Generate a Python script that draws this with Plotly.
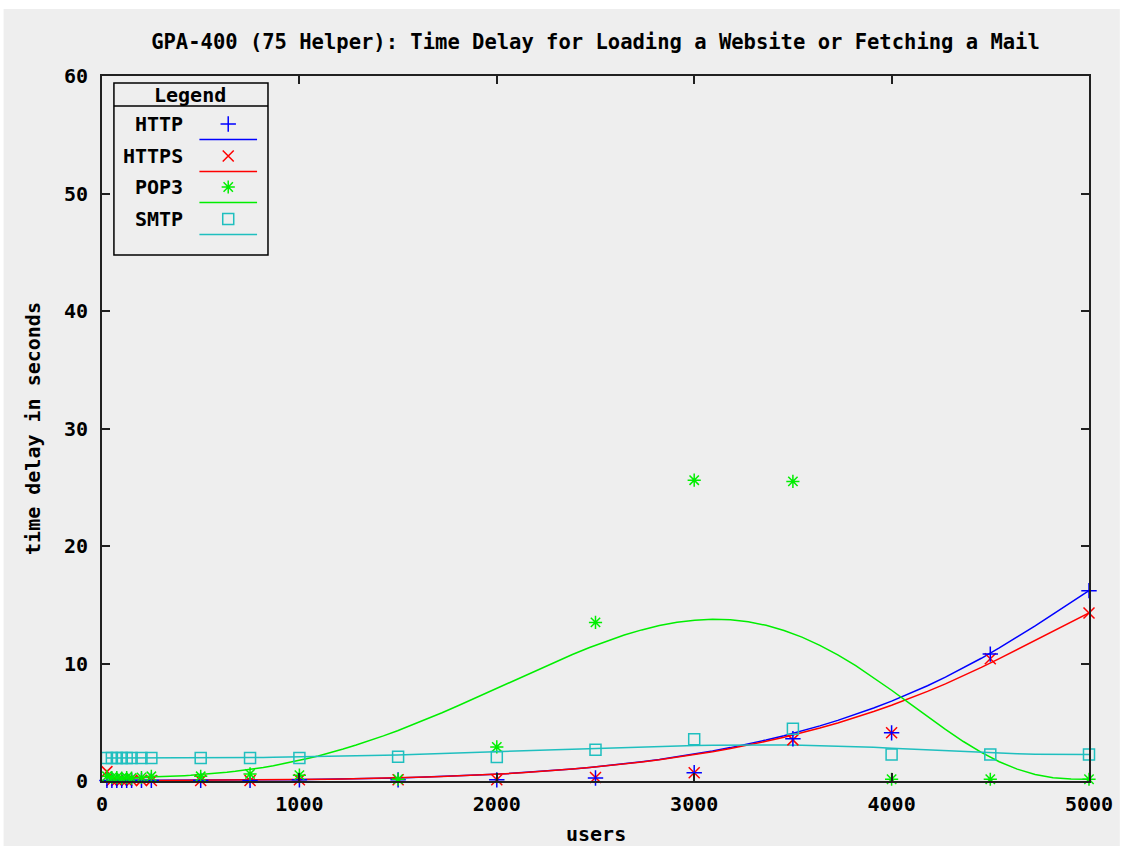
import math
import numpy as np
import plotly.graph_objects as go

# Measured delays per number of users
users = [25, 50, 75, 100, 125, 150, 200, 250, 500, 750, 1000,
         1500, 2000, 2500, 3000, 3500, 4000, 4500, 5000]
http = [0.05, 0.05, 0.05, 0.05, 0.05, 0.05, 0.05, 0.05, 0.05, 0.05, 0.1,
        0.1, 0.1, 0.25, 0.7, 3.6, 4.1, 10.8, 16.2]
https = [0.8, 0.05, 0.05, 0.05, 0.05, 0.05, 0.05, 0.05, 0.05, 0.05, 0.1,
         0.1, 0.1, 0.3, 0.7, 3.5, 4.1, 10.4, 14.3]
pop3 = [0.4, 0.3, 0.3, 0.25, 0.3, 0.25, 0.3, 0.4, 0.4, 0.6, 0.5,
        0.15, 2.9, 13.5, 25.6, 25.5, 0.15, 0.15, 0.15]
smtp = [1.95, 1.95, 1.95, 1.95, 1.95, 1.95, 1.95, 1.95, 1.95, 1.95, 1.95,
        2.07, 2.05, 2.65, 3.55, 4.45, 2.25, 2.25, 2.25]

series = [
    ("HTTP", http, "#0000ff", "cross-thin-open", 11),
    ("HTTPS", https, "#ff0000", "x-thin-open", 11),
    ("POP3", pop3, "#00ee00", "asterisk-open", 11),
    ("SMTP", smtp, "#1fbfbf", "square-open", 11),
]

x_ticks = [0, 1000, 2000, 3000, 4000, 5000]
y_ticks = [0, 10, 20, 30, 40, 50, 60]

FONT = dict(family="DejaVu Sans Mono", size=20, color="#000000", weight="bold")
TITLE_FONT = dict(FONT, size=20.5)
BG = "#eeeeee"

# Page / plot geometry in pixels
W, H = 1125, 846
PL, PR, PT, PB = 102, 1095, 76, 781


def px(xp):
    return (xp - PL) / (PR - PL)


def py(yp):
    return (PB - yp) / (PB - PT)


def bezier(xs, ys, samples=100):
    """Single Bezier curve using every point as a control point."""
    n = len(xs) - 1
    t = np.linspace(0.0, 1.0, samples)
    bx = np.zeros_like(t)
    by = np.zeros_like(t)
    for i in range(n + 1):
        b = math.comb(n, i) * t ** i * (1 - t) ** (n - i)
        bx += b * xs[i]
        by += b * ys[i]
    return bx, by


fig = go.Figure()

# Smoothed curves
for name, vals, color, sym, size in series:
    cx, cy = bezier(np.array(users, float), np.array(vals, float))
    fig.add_trace(go.Scatter(x=cx, y=cy, mode="lines",
                             line=dict(color=color, width=1.5),
                             showlegend=False, hoverinfo="skip"))

# Measured points
for name, vals, color, sym, size in [series[1], series[0], series[2], series[3]]:
    fig.add_trace(go.Scatter(x=users, y=vals, mode="markers", name=name,
                             marker=dict(symbol=sym, size=size, color=color,
                                         line=dict(color=color, width=1.5)),
                             cliponaxis=False, showlegend=False))

# Legend box drawn in the gnuplot style: label, point sample, line sample
LEG_L, LEG_R, LEG_T, LEG_B, LEG_SEP = 114, 269, 83, 255, 106
row_y = [124, 156, 187, 219]
shapes = [
    # page background with a thin white border at the top and left
    dict(type="rect", xref="paper", yref="paper", layer="below",
         x0=px(3), x1=px(1126), y0=py(847), y1=py(9),
         fillcolor=BG, line=dict(width=0)),
    dict(type="rect", xref="paper", yref="paper",
         x0=px(LEG_L), x1=px(LEG_R), y0=py(LEG_B), y1=py(LEG_T),
         line=dict(color="#000000", width=1.5)),
    dict(type="line", xref="paper", yref="paper",
         x0=px(LEG_L), x1=px(LEG_R), y0=py(LEG_SEP), y1=py(LEG_SEP),
         line=dict(color="#000000", width=1.5)),
]
annotations = [
    dict(text="Legend", xref="paper", yref="paper", x=px(191), y=py(95),
         xanchor="center", yanchor="middle", showarrow=False, font=FONT),
    dict(text="users", xref="paper", yref="paper", x=0.5, y=py(834),
         xanchor="center", yanchor="middle", showarrow=False, font=FONT),
    dict(text="time delay in seconds", xref="paper", yref="paper",
         x=px(32), y=0.5, textangle=-90, xanchor="center", yanchor="middle",
         showarrow=False, font=FONT),
]
for (name, vals, color, sym, size), ry in zip(series, row_y):
    annotations.append(dict(text=name, xref="paper", yref="paper",
                            x=px(186), y=py(ry), xanchor="right",
                            yanchor="middle", showarrow=False, font=FONT))
    shapes.append(dict(type="line", xref="paper", yref="paper",
                       x0=px(200), x1=px(258), y0=py(ry + 15.5),
                       y1=py(ry + 15.5), line=dict(color=color, width=1.5)))
    fig.add_trace(go.Scatter(x=[px(229)], y=[py(ry)], xaxis="x2", yaxis="y2",
                             mode="markers", showlegend=False, hoverinfo="skip",
                             marker=dict(symbol=sym, size=size, color=color,
                                         line=dict(color=color, width=1.5))))

axis_common = dict(showline=True, linecolor="#202020", linewidth=2,
                   mirror="allticks", ticks="inside", ticklen=8,
                   tickwidth=1.5, tickcolor="#202020", showgrid=False,
                   zeroline=False, tickfont=FONT)

fig.update_layout(
    width=W, height=H,
    margin=dict(l=PL, r=W - PR, t=PT, b=H - PB),
    paper_bgcolor="#ffffff", plot_bgcolor=BG,
    title=dict(text="GPA-400 (75 Helper): Time Delay for Loading a Website or Fetching a Mail",
               x=0.5, xref="paper", xanchor="center",
               y=1 - 42 / H, yref="container", yanchor="middle", font=TITLE_FONT),
    xaxis=dict(range=[0, 5000], tickvals=x_ticks, ticklabelstandoff=4,
               **axis_common),
    yaxis=dict(range=[0, 60], tickvals=y_ticks, ticklabelstandoff=8,
               **axis_common),
    xaxis2=dict(range=[0, 1], overlaying="x", visible=False, anchor="y2"),
    yaxis2=dict(range=[0, 1], overlaying="y", visible=False, anchor="x2"),
    shapes=shapes, annotations=annotations, showlegend=False,
)

fig.write_html("out.html")
